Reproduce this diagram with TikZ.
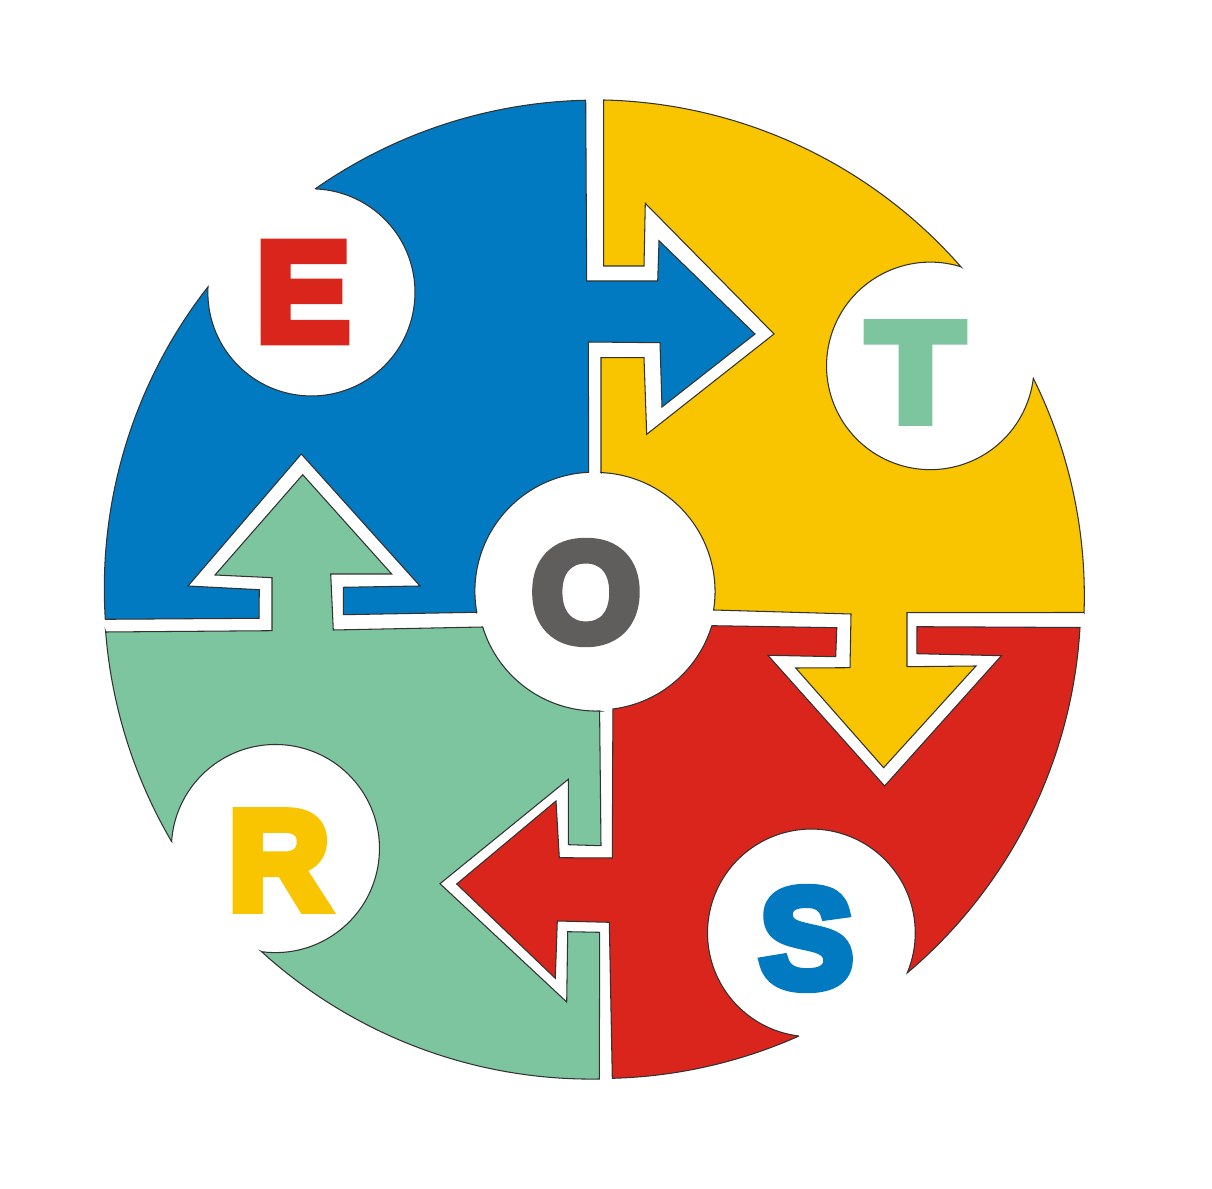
\documentclass[tikz,border=0pt]{standalone}
\usepackage{graphicx}
\usepackage{fontspec}
\newfontfamily\letterfont{Liberation Sans}[BoldFeatures={FakeBold=7}]
\definecolor{etosblue}{RGB}{2,122,193}
\definecolor{etosyellow}{RGB}{248,197,0}
\definecolor{etosgreen}{RGB}{125,197,159}
\definecolor{etosred}{RGB}{218,37,28}
\definecolor{etosgray}{RGB}{95,94,92}
\definecolor{etosline}{RGB}{50,50,50}
\tikzset{
    region/.style={draw=etosline, line width=0.3pt, line join=miter},
    letternode/.style={inner sep=0pt, font=\fontsize{40}{40}\letterfont\bfseries}
}
\begin{document}
\begin{tikzpicture}[x=0.01cm, y=0.01cm, yscale=-1]
    \useasboundingbox (0,0) rectangle (1212,1189);

    % Blue quarter
    \draw[region, fill=etosblue] (105.3,619.3) arc[start angle=176.36, end angle=217.98, radius=4.895cm]
        -- (208,287) arc[start angle=183, end angle=-87.95, radius=1.035cm]
        -- (315,189) arc[start angle=234.94, end angle=268.78, radius=4.895cm]
        -- (585.7,100.3) -- (586.7,281) -- (657.7,281) -- (659,240.7) -- (755,334)
        -- (662,407) -- (660,342.7) -- (588.3,342)
        -- (588.7,472.3) arc[start angle=267.47, end angle=169.79, radius=1.19cm]
        -- (476.8,612.3) -- (343.3,614.7) -- (343.3,587.3) -- (420,586) -- (301.3,454)
        -- (188,586) -- (259.3,589.7) -- (259,618.3) -- cycle;

    % Yellow quarter
    \draw[region, fill=etosyellow] (603.7,100) arc[start angle=271.3, end angle=318.77, radius=4.895cm]
        -- (960.7,266.7) arc[start angle=-72.96, end angle=-353.14, radius=1.037cm]
        -- (1033.3,378.3) arc[start angle=-26.38, end angle=1.95, radius=4.895cm]
        -- (1084,612.5) -- (907,612.7) -- (907,666.7) -- (976,666) -- (883.6,767.7)
        -- (795.7,668) -- (850,667.7) -- (851,614)
        -- (713.6,610) arc[start angle=8.92, end angle=-87.64, radius=1.19cm]
        -- (601,472.7) -- (601,357.7) -- (644,357.7) -- (646.7,434.3) -- (774,334)
        -- (645.3,203.3) -- (644,266) -- (603.7,266) -- cycle;

    % Red quarter
    \draw[region, fill=etosred] (1080,627.5) arc[start angle=3.35, end angle=49.8, radius=4.895cm]
        -- (907.3,972.7) arc[start angle=22.52, end angle=-263.11, radius=1.038cm]
        -- (799,1036) arc[start angle=65.96, end angle=88.5, radius=4.895cm]
        -- (612.3,1078.3) -- (609.3,922.3) -- (557.3,921) -- (555.3,978.3) -- (456.7,884)
        -- (556,801) -- (559.3,857.7) -- (612.3,858)
        -- (612.9,709) arc[start angle=82.78, end angle=16.97, radius=1.19cm]
        -- (711.8,625.7) -- (836.8,627.7) -- (835.7,656.7) -- (767.9,655.3) -- (884.6,786)
        -- (1001.4,655.7) -- (916.8,653.7) -- (917,626.7) -- cycle;

    % Green quarter
    \draw[region, fill=etosgreen] (599.3,1079) arc[start angle=89.03, end angle=132.29, radius=4.895cm]
        -- (261.7,951.7) arc[start angle=97.57, end angle=-176.2, radius=1.04cm]
        -- (171.7,841.7) arc[start angle=149.55, end angle=175.51, radius=4.895cm]
        -- (105.7,632) -- (272,630.7) -- (272,577.7) -- (215,575) -- (302.7,474.7)
        -- (391.7,574) -- (330.7,574) -- (333.3,630)
        -- (482.7,627) arc[start angle=162.9, end angle=88.48, radius=1.19cm]
        -- (599.6,711) -- (601,845.7) -- (568.3,844.7) -- (568.3,779.3) -- (440,883.7)
        -- (566.7,1002) -- (567.7,931.7) -- (599.7,932.3) -- cycle;

    % Letters
    \node[letternode, text=etosred] (letterE) at (303,292) {E};
    \node[letternode, text=etosgreen] (letterT) at (915.5,372.5) {\scalebox{1.12}[1]{T}};
    \node[letternode, text=etosgray] (letterO) at (586,592.5) {O};
    \node[letternode, text=etosblue] (letterS) at (806.5,938.5) {S};
    \node[letternode, text=etosyellow] (letterR) at (279,860.5) {R};
\end{tikzpicture}
\end{document}
